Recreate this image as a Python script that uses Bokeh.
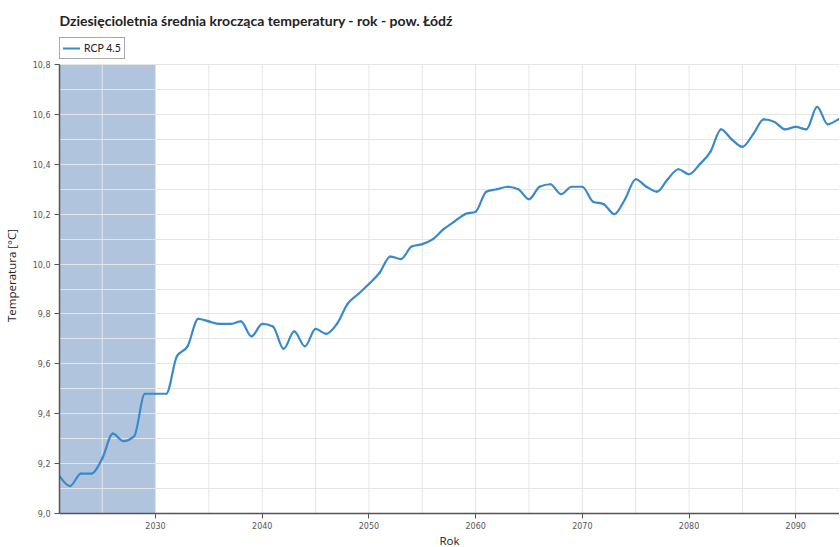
import numpy as np
from bokeh.plotting import figure
from bokeh.models import (FixedTicker, Legend, LegendItem, Range1d, ColumnDataSource)
from bokeh.embed import file_html
from bokeh.resources import INLINE

# ---- data ----
years = list(range(2021, 2096))
temps = [9.15, 9.11, 9.16, 9.16, 9.22, 9.32, 9.29, 9.31, 9.48, 9.48,
         9.48, 9.63, 9.67, 9.78, 9.77, 9.76, 9.76, 9.77, 9.71, 9.76,
         9.75, 9.66, 9.73, 9.67, 9.74, 9.72, 9.76, 9.84, 9.88, 9.92,
         9.965, 10.03, 10.02, 10.07, 10.08, 10.10, 10.14, 10.17, 10.20, 10.21,
         10.29, 10.30, 10.31, 10.30, 10.26, 10.31, 10.32, 10.28, 10.31, 10.31,
         10.25, 10.24, 10.20, 10.26, 10.34, 10.31, 10.29, 10.34, 10.38, 10.36,
         10.40, 10.45, 10.54, 10.50, 10.47, 10.52, 10.58, 10.57, 10.54, 10.55,
         10.54, 10.63, 10.56, 10.58, 10.60]
series_name = "RCP 4.5"
band_start = [2021]
band_end = [2030]
y_ticks = [9.0, 9.2, 9.4, 9.6, 9.8, 10.0, 10.2, 10.4, 10.6, 10.8]
y_minor = [9.1, 9.3, 9.5, 9.7, 9.9, 10.1, 10.3, 10.5, 10.7]
x_ticks = [2030, 2040, 2050, 2060, 2070, 2080, 2090]
x_minor = [2025, 2035, 2045, 2055, 2065, 2075, 2085]
title_text = "Dziesięcioletnia średnia krocząca temperatury - rok - pow. Łódź"
x_label = "Rok"
y_label = "Temperatura [°C]"

LINE = "#3a8acb"
BAND = "#b0c4de"
GRID = "#e6e6e6"
AX = "#555555"
LW = 2.2

# monotone-x cubic rendering of the polyline (as the original's smooth curve)
x = np.array(years, dtype=float)
y = np.array(temps, dtype=float)
h = np.diff(x)
s = np.diff(y) / h
t = np.zeros_like(y)
for i in range(1, len(y) - 1):
    s0, s1 = s[i - 1], s[i]
    pm = (s0 * h[i] + s1 * h[i - 1]) / (h[i - 1] + h[i])
    t[i] = (np.sign(s0) + np.sign(s1)) * min(abs(s0), abs(s1), 0.5 * abs(pm))
t[0] = (3 * s[0] - t[1]) / 2
t[-1] = (3 * s[-1] - t[-2]) / 2
seg = dict(x0=x[:-1], y0=y[:-1], x1=x[1:], y1=y[1:],
           cx0=x[:-1] + h / 3, cy0=y[:-1] + t[:-1] * h / 3,
           cx1=x[1:] - h / 3, cy1=y[1:] - t[1:] * h / 3)

# ---- layout numbers (pixels) ----
FW = 780
PLOT_H = 449          # height of the 9.0..10.8 area
LEG_H = 27            # room above the 10.8 line for the legend
FH = PLOT_H + LEG_H
ymin, ymax = y_ticks[0], y_ticks[-1]
ytop = ymax + LEG_H * (ymax - ymin) / PLOT_H

p = figure(frame_width=FW, frame_height=FH, output_backend="svg", toolbar_location=None,
           x_range=Range1d(2021, 2094.1), y_range=Range1d(ymin, ytop),
           title=title_text, min_border_left=52, min_border_right=0,
           min_border_top=29, min_border_bottom=0)
p.outline_line_color = None
p.background_fill_color = "white"

p.title.text_font = "Lato"
p.title.text_font_size = "14px"
p.title.text_font_style = "bold"
p.title.text_color = "#222222"
p.title.align = "left"
p.title.offset = 0
p.title.standoff = 18

band_src = ColumnDataSource(dict(left=band_start, right=band_end,
                                 bottom=[ymin], top=[ymax]))
p.quad(left="left", right="right", bottom="bottom", top="top",
       source=band_src, fill_color=BAND, line_color=None, level="image")

# vertical grid lines only over the 9.0..10.8 area
vx = sorted(x_ticks + x_minor)
p.segment(x0=vx, x1=vx, y0=[ymin] * len(vx), y1=[ymax] * len(vx),
          line_color=GRID, line_width=1, level="underlay")
p.xgrid.visible = False

curve = p.bezier(x0="x0", y0="y0", x1="x1", y1="y1", cx0="cx0", cy0="cy0",
                 cx1="cx1", cy1="cy1", source=ColumnDataSource(seg),
                 line_color=LINE, line_width=LW, line_cap="round")

# axes
p.xaxis.ticker = FixedTicker(ticks=x_ticks, minor_ticks=[])
p.yaxis.ticker = FixedTicker(ticks=y_ticks, minor_ticks=y_minor)
p.yaxis.bounds = (ymin, ymax)
p.yaxis.major_label_overrides = {t_: ("%.1f" % t_).replace(".", ",") for t_ in y_ticks}
for ax in (p.xaxis[0], p.yaxis[0]):
    ax.axis_line_color = AX
    ax.axis_line_width = 1.5
    ax.major_tick_line_color = AX
    ax.major_tick_out = 5
    ax.major_tick_in = 0
    ax.minor_tick_out = 0
    ax.minor_tick_in = 0
    ax.major_label_text_font = "DejaVu Sans"
    ax.major_label_text_font_size = "8px"
    ax.major_label_text_color = "#555555"
    ax.axis_label_text_font = "Open Sans"
    ax.axis_label_text_font_size = "11.5px"
    ax.axis_label_text_font_style = "normal"
    ax.axis_label_text_color = "#222222"
p.xaxis.axis_label = x_label
p.yaxis.axis_label = y_label
p.xaxis.major_label_standoff = 3
p.xaxis.axis_label_standoff = 1
p.yaxis.major_label_standoff = 4
p.yaxis.axis_label_standoff = 11

g = p.ygrid[0]
g.grid_line_color = GRID
g.minor_grid_line_color = GRID
g.grid_line_width = 1
g.minor_grid_line_width = 1

legend = Legend(items=[LegendItem(label=series_name, renderers=[curve])],
                location="top_left", orientation="horizontal",
                border_line_color="#555555", border_line_width=1,
                background_fill_color="white", background_fill_alpha=1,
                label_text_font="Lato", label_text_font_size="10.5px",
                label_text_color="#222222", glyph_width=17, glyph_height=14,
                label_height=14, padding=3, margin=0, spacing=0,
                label_standoff=4)
p.add_layout(legend, "center")

open("out.html", "w").write(file_html(p, INLINE))
